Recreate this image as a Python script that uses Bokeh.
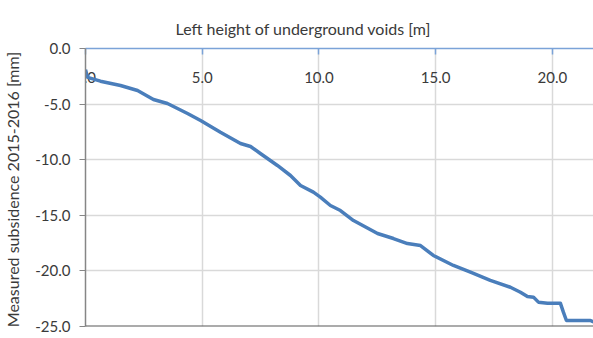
from bokeh.plotting import figure
from bokeh.models import Span, FixedTicker, PrintfTickFormatter, ColumnDataSource
from bokeh.core.properties import value
from bokeh.embed import file_html
from bokeh.resources import INLINE

# data
void_height = [0.0, 0.09, 0.64, 1.50, 2.23, 2.91, 3.51, 4.37, 4.93, 5.78, 6.64, 7.07,
               7.49, 8.22, 8.78, 9.21, 9.76, 10.06, 10.49, 10.92, 11.48, 12.51, 13.19,
               13.79, 14.35, 14.90, 15.76, 16.49, 17.34, 18.20, 18.63, 18.93, 19.19,
               19.40, 19.79, 20.34, 20.47, 20.60, 21.63, 21.76]
subsidence = [-1.9, -2.6, -2.94, -3.33, -3.78, -4.59, -4.95, -5.85, -6.47, -7.53, -8.54,
              -8.81, -9.44, -10.52, -11.42, -12.32, -12.92, -13.37, -14.12, -14.57,
              -15.47, -16.64, -17.09, -17.54, -17.72, -18.61, -19.51, -20.12, -20.86,
              -21.47, -21.92, -22.30, -22.36, -22.81, -22.90, -22.90, -23.71, -24.46,
              -24.46, -24.6]
x_ticks = [0, 5, 10, 15, 20]
x_tick_labels = ["0.0", "5.0", "10.0", "15.0", "20.0"]
y_ticks = [0, -5, -10, -15, -20, -25]
x_title = "Left height of underground voids [m]"
y_title = "Measured subsidence 2015-2016  [mm]"

FONT = "Lato"
TXT = "#3a3a3a"

p = figure(width=593, height=338, output_backend="svg", toolbar_location=None,
           x_range=(0, 21.76), y_range=(-25, 0), x_axis_location="above",
           min_border_left=85, min_border_right=0, min_border_top=48, min_border_bottom=12)
p.outline_line_color = None
p.background_fill_color = "white"

p.title.text = x_title
p.title.text_font = FONT
p.title.text_font_size = "16px"
p.title.text_font_style = "normal"
p.title.text_color = TXT
p.title.align = "left"
p.title.offset = 90
p.title.vertical_align = "top"
p.title.standoff = 17

xa = p.xaxis[0]
xa.ticker = FixedTicker(ticks=x_ticks)
xa.axis_line_color = "#7ba3d8"
xa.axis_line_width = 1.5
xa.major_tick_line_color = "#7ba3d8"
xa.major_tick_line_width = 1.5
xa.major_tick_in = 6
xa.major_tick_out = 0
xa.minor_tick_line_color = None
xa.major_label_overrides = {t: "" for t in x_ticks}
xa.major_label_standoff = 0

ya = p.yaxis[0]
ya.ticker = FixedTicker(ticks=y_ticks)
ya.formatter = PrintfTickFormatter(format="%.1f")
ya.axis_line_color = "#868686"
ya.axis_line_width = 1.5
ya.major_tick_line_color = "#868686"
ya.major_tick_out = 6
ya.major_tick_in = 0
ya.minor_tick_line_color = None
ya.major_label_text_font = FONT
ya.major_label_text_font_size = "15px"
ya.major_label_text_color = TXT
ya.major_label_standoff = 9
ya.axis_label = y_title
ya.axis_label_text_font = FONT
ya.axis_label_text_font_size = "16px"
ya.axis_label_text_font_style = "normal"
ya.axis_label_text_color = TXT
ya.axis_label_standoff = 10

p.xgrid.ticker = FixedTicker(ticks=x_ticks)
p.ygrid.ticker = FixedTicker(ticks=y_ticks)
p.xgrid.grid_line_color = "#d9d9d9"
p.ygrid.grid_line_color = "#d9d9d9"
p.xgrid.grid_line_width = 1.5
p.ygrid.grid_line_width = 1.5

p.add_layout(Span(location=-25, dimension="width", line_color="#595959", line_width=2))

# x tick labels drawn inside the plot, below the top axis line
lab = ColumnDataSource(dict(x=x_ticks, y=[-2.6] * len(x_ticks), t=x_tick_labels))
p.text(x="x", y="y", text="t", source=lab, text_align="center", text_baseline="middle",
       text_font=value(FONT), text_font_size="15px", text_color=TXT)

p.line(void_height, subsidence, line_color="#4a7ebb", line_width=3.5, line_join="round")

open("out.html", "w").write(file_html(p, INLINE))
